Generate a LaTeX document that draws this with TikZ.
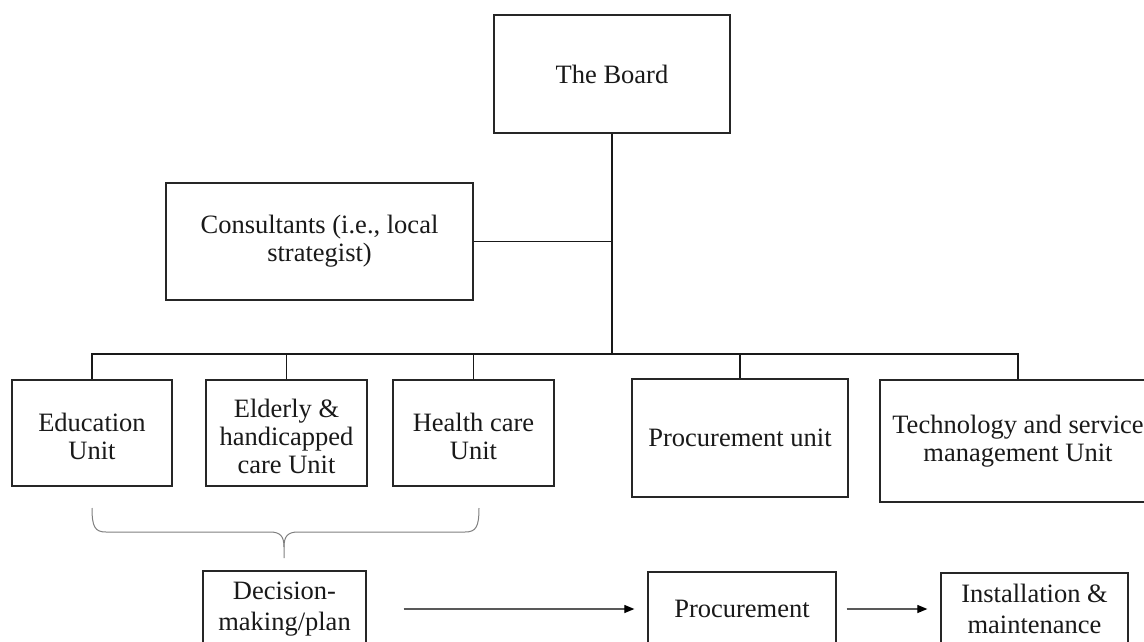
\documentclass[tikz,border=0pt]{standalone}
\usepackage{fontspec}
\setmainfont{Liberation Serif}
\usetikzlibrary{arrows.meta}
\tikzset{
  unitbox/.style={draw=black!85, line width=1.3pt, align=center, inner sep=0pt,
    font=\fontsize{26.5}{28}\selectfont, text=black!90},
  unittext/.style={align=center, inner sep=0pt, font=\fontsize{26.5}{28}\selectfont, text=black!90},
  lowbox/.style={unitbox, font=\fontsize{26.5}{31}\selectfont},
  link/.style={draw=black!90, line width=1.4pt},
  bracestyle/.style={draw=black!50, line width=1pt},
  flow/.style={draw=black!65, line width=1.2pt, -{Triangle[length=10pt,width=8pt,fill=black,color=black]}}
}
\begin{document}
\begin{tikzpicture}[x=1pt,y=-1pt]
\useasboundingbox (0,0) rectangle (1144,642);
\fill[white] (0,0) rectangle (1144,642);

\node[unitbox, minimum width=236pt, minimum height=118pt] (board) at (612,74) {The Board};
\node[unitbox, minimum width=307pt, minimum height=117pt] (cons) at (319.5,241.5) {Consultants (i.e., local\\strategist)};

\node[unitbox, minimum width=160pt, minimum height=106pt,
  label={[unittext, yshift=-3pt]center:{Education\\Unit}}] (edu) at (92,433) {};
\node[unitbox, minimum width=161pt, minimum height=106pt,
  label={[unittext, yshift=-3pt]center:{Elderly \&\\handicapped\\care Unit}}] (eld) at (286.5,433) {};
\node[unitbox, minimum width=161pt, minimum height=106pt,
  label={[unittext, yshift=-3pt]center:{Health care\\Unit}}] (hea) at (473.5,433) {};
\node[unitbox, minimum width=216pt, minimum height=118pt] (pu) at (740,438) {Procurement unit};
\node[unitbox, minimum width=276pt, minimum height=122pt] (tech) at (1018,441) {Technology and service\\management Unit};

\node[lowbox, minimum width=163pt, minimum height=76pt] (dec) at (284.5,609) {Decision-\\making/plan};
\node[lowbox, minimum width=188pt, minimum height=74pt] (proc) at (742,609) {Procurement};
\node[lowbox, minimum width=187pt, minimum height=72pt] (inst) at (1034.5,609) {Installation \&\\maintenance};

\coordinate (bus) at (612,354);
\draw[link] (board.south) -- (bus);
\draw[link] (cons.east) -- (cons.east -| bus);
\draw[link] (edu.north) |- (bus);
\draw[link] (bus) -| (tech.north);
\draw[link] (eld.north) -- (eld.north |- bus);
\draw[link] (hea.north) -- (hea.north |- bus);
\draw[link] (pu.north) -- (pu.north |- bus);

\coordinate (bl) at (92,508);
\coordinate (br) at (479,508);
\coordinate (bt) at (284,558);
\draw[bracestyle] (bl) .. controls (92,527) and (95,532) .. (106,532) -- (270,532)
  .. controls (280,532) and (284,536) .. (284,547) -- (bt);
\draw[bracestyle] (284,547) .. controls (284,536) and (288,532) .. (298,532) -- (465,532)
  .. controls (476,532) and (479,527) .. (br);

\draw[flow, shorten <=37pt, shorten >=13pt] (dec) -- (proc);
\draw[flow, shorten <=10pt, shorten >=13pt] (proc) -- (inst);
\end{tikzpicture}
\end{document}
